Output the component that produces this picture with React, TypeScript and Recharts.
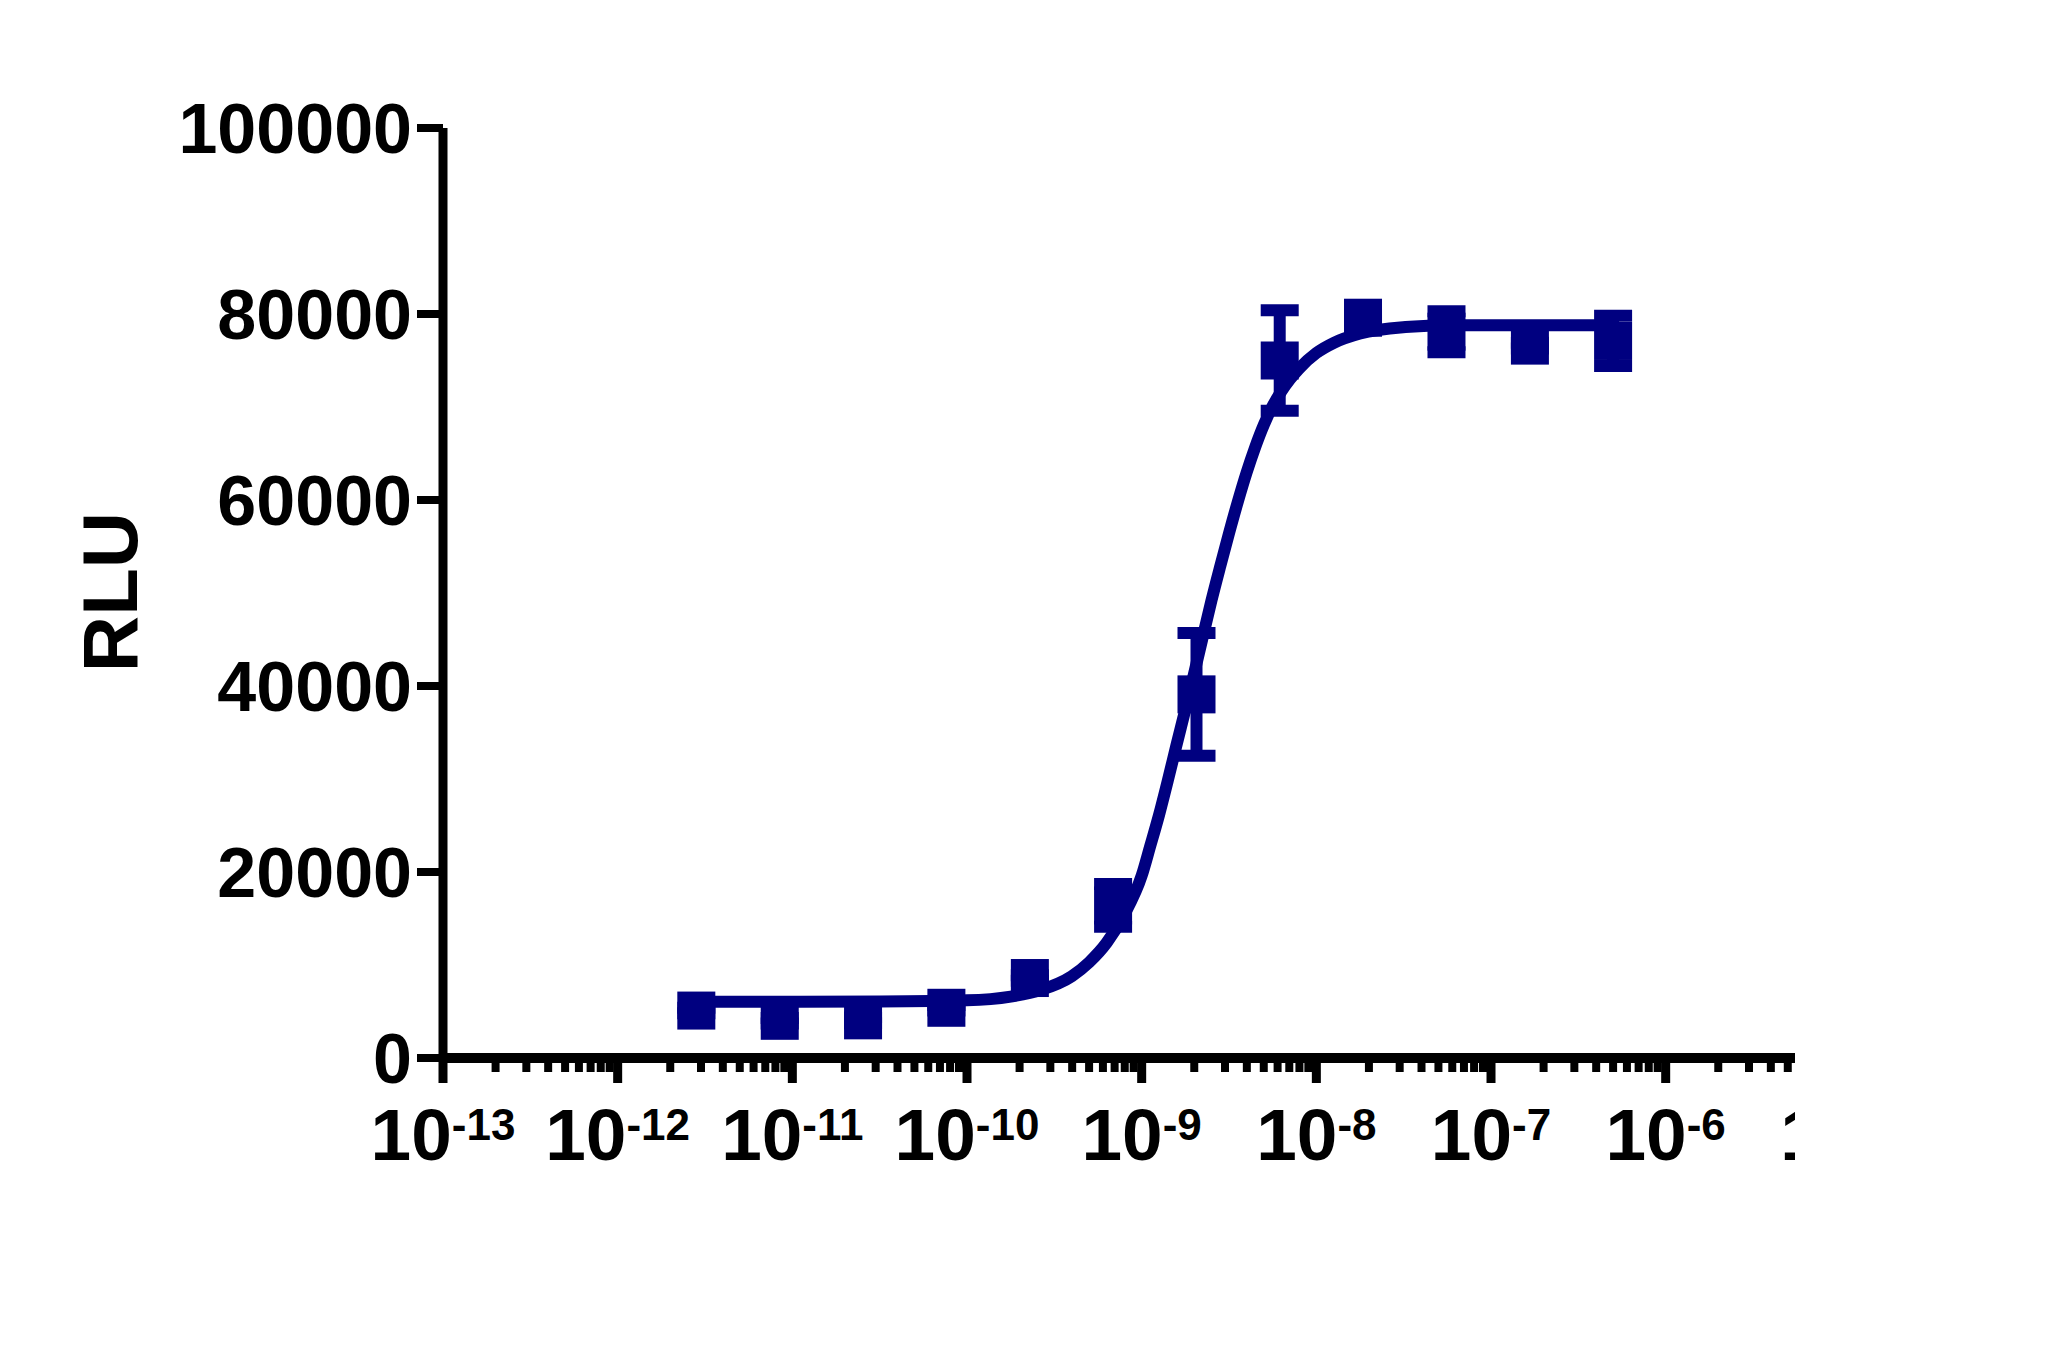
import { ComposedChart, Line, Scatter, ErrorBar, XAxis, YAxis } from "recharts"

const navy = "#000080"
const font = "'Liberation Sans', Arial, Helvetica, sans-serif"

// concentration (M), 3-fold dilution series
const conc = [2.82e-12, 8.47e-12, 2.54e-11, 7.62e-11, 2.29e-10, 6.86e-10, 2.06e-9, 6.17e-9, 1.85e-8, 5.56e-8, 1.67e-7, 5.0e-7]
const rlu = [5100, 4000, 4050, 5400, 8600, 16400, 39100, 75000, 79600, 78100, 76600, 77100]
const sd = [300, 300, 300, 300, 300, 2300, 6600, 5400, 300, 2200, 300, 2700]

// fitted curve
const curveX = [
  2.82e-12, 1e-11, 3.16e-11, 1e-10, 1.78e-10, 2.63e-10, 3.98e-10, 5.01e-10, 6.31e-10, 7.94e-10,
  1e-9, 1.12e-9, 1.26e-9, 1.41e-9, 1.58e-9, 1.78e-9, 2.0e-9, 2.24e-9, 2.51e-9, 2.82e-9,
  3.16e-9, 3.55e-9, 3.98e-9, 4.47e-9, 5.01e-9, 5.62e-9, 6.31e-9, 7.08e-9, 7.94e-9, 1e-8,
  1.26e-8, 1.78e-8, 3.24e-8, 5.89e-8, 5.0e-7,
]
const curveY = [
  6050, 6050, 6080, 6200, 6600, 7300, 8800, 10300, 12400, 15400,
  19600, 22800, 26200, 29800, 33600, 37500, 41400, 45300, 49200, 52900,
  56400, 59800, 62900, 65700, 68100, 70100, 71700, 73000, 74100, 75800,
  76900, 77900, 78600, 78800, 78800,
]

const decades = [-13, -12, -11, -10, -9, -8, -7, -6, -5]
const minorSteps = [2, 3, 4, 5, 6, 7, 8, 9]
const yTicks = [0, 20000, 40000, 60000, 80000, 100000]

const xMin = 1e-13
const xMax = 5.5e-6

const W = 2000
const H = 1300
const margin = { top: 120, right: 213, bottom: 100, left: 235 }
const plotRight = W - margin.right

const points = conc.map((x, i) => ({ x, y: rlu[i], err: sd[i] }))
const curve = curveX.map((x, i) => ({ x, y: curveY[i] }))

const xTicks: number[] = []
decades.forEach((d) => {
  xTicks.push(Math.pow(10, d))
  if (d < -5) minorSteps.forEach((m) => xTicks.push(m * Math.pow(10, d)))
})
const visibleTicks = xTicks.filter((v) => v <= xMax || Math.abs(Math.log10(v) - Math.round(Math.log10(v))) < 1e-9)

function XTick(props: any) {
  const { x, y, payload } = props
  const v = payload.value
  const lg = Math.log10(v)
  const e = Math.round(lg)
  const major = Math.abs(lg - e) < 1e-6
  const label = (
    <text x={x} y={y + 102} textAnchor="middle" fontFamily={font} fontWeight="bold" fontSize={73} fill="#000">
      <tspan>10</tspan>
      <tspan fontSize={44} dy={-20}>{String(e)}</tspan>
    </text>
  )
  if (v > xMax) {
    // label past the end of the axis is cut off at the axis end
    return (
      <g>
        <defs>
          <clipPath id="xclip">
            <rect x={0} y={0} width={plotRight} height={H} />
          </clipPath>
        </defs>
        <g clipPath="url(#xclip)">{label}</g>
      </g>
    )
  }
  return (
    <g>
      <line x1={x} x2={x} y1={y} y2={y + (major ? 25 : 14)} stroke="#000" strokeWidth={major ? 9 : 8} />
      {major && label}
    </g>
  )
}

function YTitle() {
  return (
    <text transform="translate(129,584) rotate(-90)" textAnchor="middle" fontFamily={font} fontWeight="bold" fontSize={78} fill="#000">
      RLU
    </text>
  )
}

function Square(props: any) {
  const { cx, cy } = props
  return <rect x={cx - 19} y={cy - 19} width={38} height={38} fill={navy} />
}

export default function App() {
  return (
    <div style={{ width: W, height: H, fontFamily: font }}>
      <ComposedChart width={W} height={H} margin={margin}>
        <XAxis
          dataKey="x"
          type="number"
          scale="log"
          domain={[xMin, xMax]}
          allowDataOverflow
          ticks={visibleTicks}
          interval={0}
          tick={<XTick />}
          tickLine={false}
          tickSize={0}
          tickMargin={0}
          height={150}
          axisLine={{ stroke: "#000", strokeWidth: 10 }}
        />
        <YAxis
          dataKey="y"
          type="number"
          domain={[0, 100000]}
          ticks={yTicks}
          interval={0}
          width={200}
          tickSize={26}
          tickMargin={5}
          tick={{ fontSize: 70, fontWeight: "bold", fill: "#000", fontFamily: font }}
          tickLine={{ stroke: "#000", strokeWidth: 8 }}
          axisLine={{ stroke: "#000", strokeWidth: 9 }}
          label={<YTitle />}
        />
        <Line data={curve} dataKey="y" type="monotone" stroke={navy} strokeWidth={12} dot={false} isAnimationActive={false} />
        <Scatter data={points} dataKey="y" fill={navy} shape={<Square />} isAnimationActive={false}>
          <ErrorBar dataKey="err" direction="y" width={19} strokeWidth={12} stroke={navy} />
        </Scatter>
      </ComposedChart>
    </div>
  )
}
